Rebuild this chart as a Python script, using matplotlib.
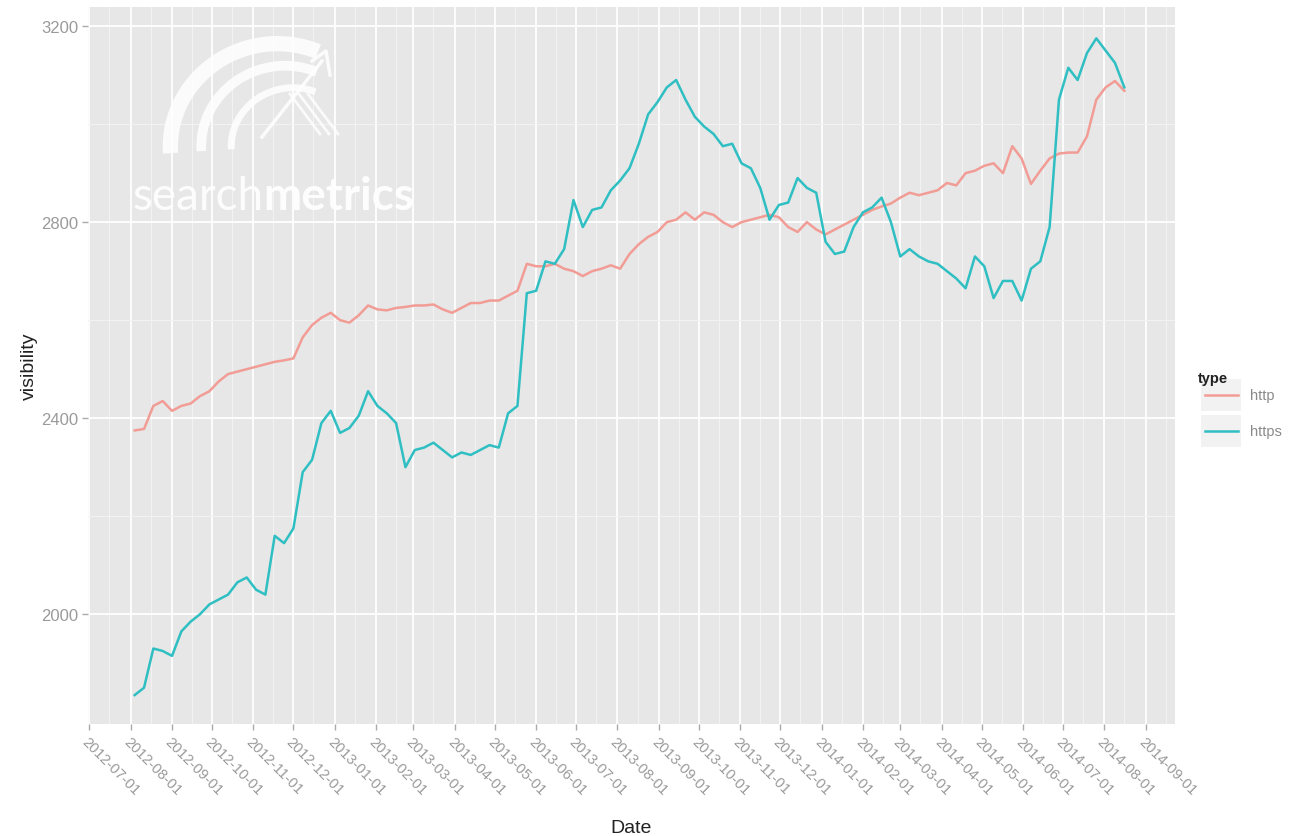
import pandas as pd
import matplotlib
matplotlib.use('Agg')
import matplotlib.pyplot as plt
import matplotlib.dates as mdates
from matplotlib.patches import Arc, Rectangle
from matplotlib.lines import Line2D

# weekly visibility values
dates = pd.date_range('2012-08-04', periods=107, freq='7D')

http = [2375, 2378, 2425, 2435, 2415, 2425, 2430, 2445, 2455, 2475,
        2490, 2495, 2500, 2505, 2510, 2515, 2518, 2522, 2565, 2590,
        2605, 2615, 2600, 2595, 2610, 2630, 2622, 2620, 2625, 2627,
        2630, 2630, 2632, 2622, 2615, 2625, 2635, 2635, 2640, 2640,
        2650, 2660, 2715, 2710, 2710, 2715, 2705, 2700, 2690, 2700,
        2705, 2712, 2705, 2735, 2755, 2770, 2780, 2800, 2805, 2820,
        2805, 2820, 2815, 2800, 2790, 2800, 2805, 2810, 2815, 2810,
        2790, 2780, 2800, 2785, 2775, 2785, 2795, 2805, 2815, 2825,
        2832, 2838, 2850, 2860, 2855, 2860, 2865, 2880, 2875, 2900,
        2905, 2915, 2920, 2900, 2955, 2930, 2878, 2905, 2930, 2940,
        2942, 2942, 2975, 3050, 3075, 3088, 3068]

https = [1835, 1850, 1930, 1925, 1915, 1965, 1985, 2000, 2020, 2030,
         2040, 2065, 2075, 2050, 2040, 2160, 2145, 2175, 2290, 2315,
         2390, 2415, 2370, 2380, 2405, 2455, 2425, 2410, 2390, 2300,
         2335, 2340, 2350, 2335, 2320, 2330, 2325, 2335, 2345, 2340,
         2410, 2425, 2655, 2660, 2720, 2715, 2745, 2845, 2790, 2825,
         2830, 2865, 2885, 2910, 2960, 3020, 3045, 3075, 3090, 3050,
         3015, 2995, 2980, 2955, 2960, 2920, 2910, 2870, 2805, 2835,
         2840, 2890, 2870, 2860, 2760, 2735, 2740, 2790, 2820, 2830,
         2850, 2800, 2730, 2745, 2730, 2720, 2715, 2700, 2685, 2665,
         2730, 2710, 2645, 2680, 2680, 2640, 2705, 2720, 2790, 3050,
         3115, 3090, 3145, 3175, 3150, 3125, 3075]

series_names = ['http', 'https']
series_colors = ['#F29C96', '#2FBFC3']

plt.rcParams['font.family'] = ['Liberation Sans', 'DejaVu Sans']

fig = plt.figure(figsize=(12.94, 8.37), dpi=100)
ax = fig.add_axes([88 / 1294, 1 - 725 / 837, 1087 / 1294, 717 / 837])

# ggplot-ish grey panel
ax.set_facecolor('#E7E7E7')
for s in ax.spines.values():
    s.set_visible(False)

ax.plot(dates, http, color=series_colors[0], lw=1.8, zorder=3)
ax.plot(dates, https, color=series_colors[1], lw=1.8, zorder=3)

ax.set_ylim(1776, 3239)
ax.set_xlim(pd.Timestamp('2012-06-30'), pd.Timestamp('2014-09-23'))

ax.set_yticks([2000, 2400, 2800, 3200])
ax.set_yticks([2200, 2600, 3000], minor=True)
ax.xaxis.set_major_locator(mdates.MonthLocator())
ax.xaxis.set_major_formatter(mdates.DateFormatter('%Y-%m-%d'))
ax.xaxis.set_minor_locator(mdates.DayLocator(bymonthday=[16]))

ax.grid(which='major', color='white', lw=1.3, zorder=0)
ax.grid(which='minor', color='#F3F3F3', lw=0.7, zorder=0)
ax.set_axisbelow(True)

ax.tick_params(which='major', length=4, width=1, color='#AAAAAA',
               labelcolor='#9A9A9A')
ax.tick_params(axis='y', labelsize=12, pad=3)
ax.tick_params(axis='x', labelsize=10.5, pad=3)
ax.tick_params(which='minor', length=0)
for lbl in ax.get_xticklabels():
    lbl.set_rotation(-45)
    lbl.set_ha('left')
    lbl.set_va('top')
    lbl.set_rotation_mode('anchor')

ax.set_xlabel('Date', fontsize=14, color='#222222', labelpad=16)
ax.set_ylabel('visibility', fontsize=14, color='#222222', labelpad=2)

# watermark text
fig.text(133 / 1294, 1 - 210 / 837, 'search', family='Lato', weight='normal',
         fontsize=33, color='white', alpha=0.9, zorder=2)
fig.text(263 / 1294, 1 - 210 / 837, 'metrics', family='Lato', weight='bold',
         fontsize=33, color='white', alpha=0.95, zorder=2)

# watermark logo (rough swooshes), drawn in pixel-like coordinates
logo = fig.add_axes([150 / 1294, 1 - 160 / 837, 210 / 1294, 130 / 837])
logo.set_xlim(150, 360)
logo.set_ylim(160, 30)
logo.axis('off')
for cx, rx, ry, lw in [(275, 105, 100, 11), (283, 82, 78, 7), (291, 60, 56, 5)]:
    logo.add_patch(Arc((cx, 145), 2 * rx, 2 * ry, angle=-15, theta1=190, theta2=310,
                       color='white', lw=lw, alpha=0.85, clip_on=False))
logo.add_line(Line2D([262, 322], [138, 62], color='white', lw=2.5, alpha=0.85))
logo.add_line(Line2D([312, 326, 330], [62, 52, 76], color='white', lw=2.5, alpha=0.85))
for dx in [0, 9, 18]:
    logo.add_line(Line2D([290 + dx, 320 + dx], [95, 135], color='white',
                         lw=2, alpha=0.8))

# legend drawn in figure pixels
fig.text(1198 / 1294, 1 - 379 / 837, 'type', fontsize=10.5, weight='bold',
         color='#222222', va='center')
for i, (name, col) in enumerate(zip(series_names, series_colors)):
    yc = 1 - (396 + 36 * i) / 837
    fig.add_artist(Rectangle((1200 / 1294, yc - 17 / 837), 42 / 1294, 34 / 837,
                             facecolor='#F2F2F2', edgecolor='white', lw=1.5,
                             transform=fig.transFigure))
    fig.add_artist(Line2D([1205 / 1294, 1238 / 1294], [yc, yc], color=col, lw=1.8,
                          transform=fig.transFigure))
    fig.text(1250 / 1294, yc, name, fontsize=10.5, color='#8A8A8A', va='center')

fig.savefig('out.png', dpi=100)
